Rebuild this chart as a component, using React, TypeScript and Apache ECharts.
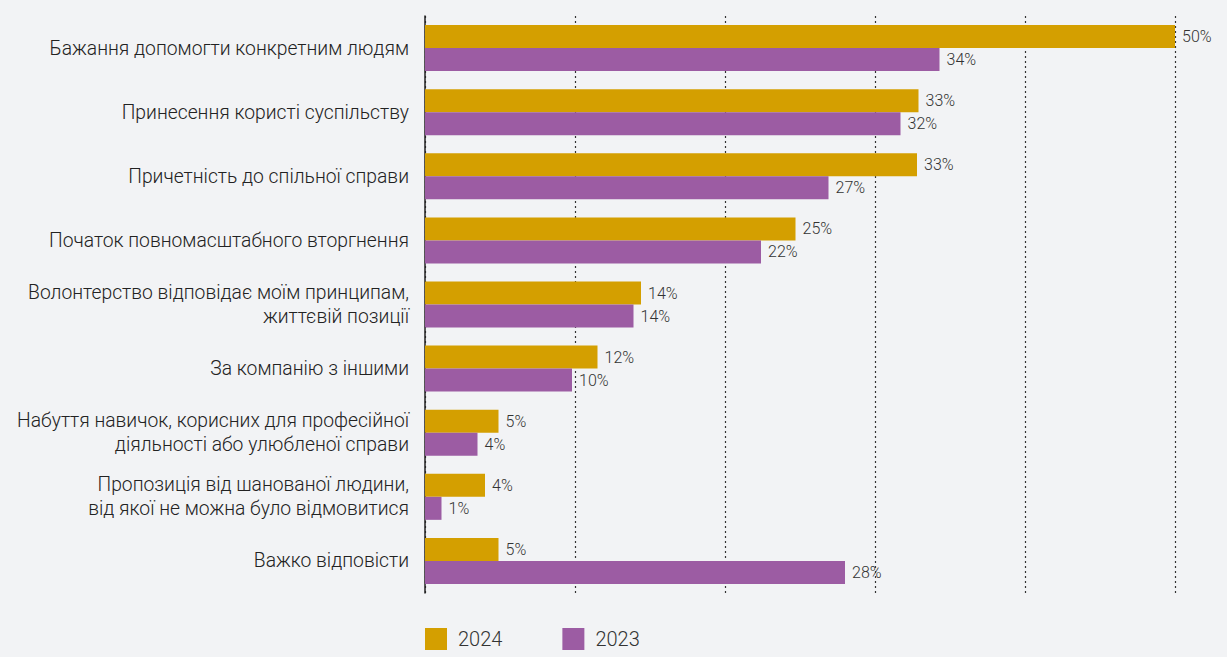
import React, { useEffect, useRef } from "react";
import * as echarts from "echarts";

const categories = [
  "Бажання допомогти конкретним людям",
  "Принесення користі суспільству",
  "Причетність до спільної справи",
  "Початок повномасштабного вторгнення",
  "Волонтерство відповідає моїм принципам,\nжиттєвій позиції",
  "За компанію з іншими",
  "Набуття навичок, корисних для професійної\nдіяльності або улюбленої справи",
  "Пропозиція від шанованої людини,\nвід якої не можна було відмовитися",
  "Важко відповісти",
];
const values2024 = [50, 32.9, 32.8, 24.7, 14.4, 11.5, 4.9, 4.0, 4.9];
const values2023 = [34.3, 31.7, 26.9, 22.4, 13.9, 9.8, 3.5, 1.1, 28.0];
const seriesNames = ["2024", "2023"];
const colors = ["#d49f00", "#9c5ca3"];

export default function App() {
  const ref = useRef<HTMLDivElement>(null);
  useEffect(() => {
    if (!ref.current) return;
    const chart = echarts.init(ref.current, null, { renderer: "svg" });
    const font = "Roboto, 'Noto Sans', sans-serif";
    const label = {
      show: true,
      position: "right" as const,
      distance: 7,
      fontFamily: font,
      fontSize: 16,
      fontWeight: 300 as any,
      color: "#333",
      formatter: (p: any) => Math.round(p.value) + "%",
    };
    chart.setOption({
      animation: false,
      backgroundColor: "#f2f3f5",
      textStyle: { fontFamily: font },
      grid: { left: 425, right: 52, top: 16, bottom: 64, containLabel: false },
      legend: {
        left: 420,
        bottom: 2,
        itemWidth: 22,
        itemHeight: 22,
        itemGap: 60,
        icon: "rect",
        textStyle: { fontSize: 20, color: "#333", fontFamily: font, fontWeight: 300 as any, padding: [0, 0, 0, 6] },
        data: seriesNames,
      },
      xAxis: {
        type: "value",
        min: 0,
        max: 50,
        interval: 10,
        axisLabel: { show: false },
        axisLine: { show: false },
        axisTick: { show: false },
        splitLine: { show: true, lineStyle: { color: "#333", type: [2, 3], width: 1.2 } },
      },
      yAxis: {
        type: "category",
        inverse: true,
        data: categories,
        axisLine: { show: true, lineStyle: { color: "#222", width: 1.5 } },
        axisTick: { show: false },
        axisLabel: {
          margin: 16,
          fontSize: 19.3,
          fontWeight: 300 as any,
          color: "#222",
          fontFamily: font,
          lineHeight: 24,
          align: "right",
        },
      },
      series: [
        {
          name: seriesNames[0],
          type: "bar",
          data: values2024,
          barWidth: 23,
          barGap: "0%",
          itemStyle: { color: colors[0] },
          label,
        },
        {
          name: seriesNames[1],
          type: "bar",
          data: values2023,
          barWidth: 23,
          barGap: "0%",
          itemStyle: { color: colors[1] },
          label,
        },
      ],
    });
    return () => chart.dispose();
  }, []);
  return <div ref={ref} style={{ width: 1227, height: 657, position: "fixed", left: 0, top: 0 }} />;
}
